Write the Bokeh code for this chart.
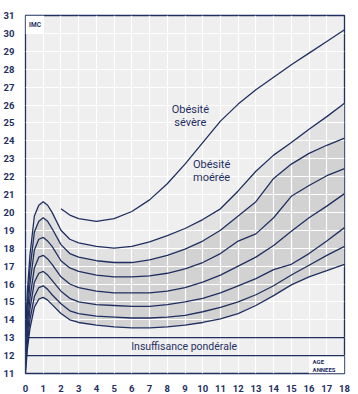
from bokeh.plotting import figure
from bokeh.models import SingleIntervalTicker, Label, ColumnDataSource, LabelSet
from bokeh.core.properties import value
from bokeh.embed import file_html
from bokeh.resources import INLINE

# ---------------- data ----------------
ages = [0, 0.1, 0.25, 0.5, 0.75, 1, 1.25, 1.5, 2, 2.5, 3, 4, 5, 6, 7, 8, 9, 10,
        11, 12, 13, 14, 15, 16, 17, 18]
p97 = [13.0, 15.5, 17.6, 19.8, 20.4, 20.6, 20.4, 20.0, 19.0, 18.5, 18.3, 18.1, 18.0,
       18.1, 18.35, 18.7, 19.1, 19.6, 20.2, 21.2, 22.3, 23.2, 23.9, 24.65, 25.35, 26.1]
p90 = [12.6, 14.8, 16.8, 18.9, 19.5, 19.7, 19.5, 19.1, 18.2, 17.7, 17.5, 17.3, 17.2,
       17.2, 17.35, 17.6, 17.95, 18.4, 19.0, 19.8, 20.6, 21.9, 22.7, 23.3, 23.75, 24.15]
p75 = [12.2, 14.2, 16.0, 17.9, 18.5, 18.6, 18.4, 18.1, 17.3, 16.9, 16.7, 16.5, 16.4,
       16.4, 16.45, 16.6, 16.85, 17.2, 17.7, 18.4, 18.8, 19.7, 20.9, 21.5, 22.05, 22.45]
p50 = [11.8, 13.6, 15.2, 16.9, 17.5, 17.6, 17.4, 17.1, 16.4, 16.0, 15.8, 15.6, 15.5,
       15.5, 15.5, 15.6, 15.8, 16.1, 16.5, 17.0, 17.5, 18.15, 18.95, 19.7, 20.35, 21.05]
p25 = [11.5, 13.1, 14.6, 16.1, 16.6, 16.7, 16.5, 16.2, 15.6, 15.2, 15.0, 14.85, 14.8,
       14.75, 14.75, 14.85, 15.0, 15.2, 15.5, 15.9, 16.3, 16.8, 17.1, 17.7, 18.4, 19.15]
p10 = [11.2, 12.6, 14.0, 15.3, 15.8, 15.9, 15.7, 15.4, 14.9, 14.5, 14.35, 14.2, 14.15,
       14.1, 14.1, 14.15, 14.25, 14.45, 14.7, 15.0, 15.4, 15.9, 16.5, 17.05, 17.6, 18.1]
p3 = [11.0, 12.3, 13.5, 14.7, 15.15, 15.25, 15.1, 14.85, 14.35, 14.0, 13.85, 13.7, 13.6,
      13.55, 13.55, 13.6, 13.7, 13.85, 14.05, 14.35, 14.8, 15.35, 15.95, 16.4, 16.75, 17.1]

severe_ages = [2, 2.5, 3, 4, 5, 6, 7, 8, 9, 10, 11, 12, 13, 14, 15, 16, 17, 18]
severe = [20.2, 19.85, 19.65, 19.5, 19.65, 20.05, 20.7, 21.6, 22.7, 23.9, 25.1, 26.05,
          26.85, 27.55, 28.25, 28.9, 29.55, 30.2]

percentile_names = ["97", "90", "75", "50", "25", "10", "3"]
underweight_limits = [12, 13]

NAVY = "#1f2f5f"
FONT = "Roboto"

p = figure(width=358, height=394, x_range=(0, 18), y_range=(11, 31),
           output_backend="svg", toolbar_location=None,
           min_border_left=18, min_border_right=14, min_border_top=15,
           min_border_bottom=17)
p.background_fill_color = "#efeff0"
p.border_fill_color = "white"
p.outline_line_color = NAVY
p.outline_line_width = 1.3

for ax in (p.xaxis[0], p.yaxis[0]):
    ax.ticker = SingleIntervalTicker(interval=1)
    ax.axis_line_color = None
    ax.major_tick_line_color = None
    ax.minor_tick_line_color = None
    ax.major_label_text_font = FONT
    ax.major_label_text_font_size = "9.5px"
    ax.major_label_text_font_style = "bold"
    ax.major_label_text_color = NAVY
p.xaxis.major_label_standoff = 5
p.yaxis.major_label_standoff = 5

p.xgrid.ticker = SingleIntervalTicker(interval=1)
p.ygrid.ticker = SingleIntervalTicker(interval=1)
for g in (p.xgrid[0], p.ygrid[0]):
    g.grid_line_color = "white"
    g.grid_line_width = 1.2
    g.grid_line_alpha = 1.0

# shaded bands
b1 = p.varea(x=ages, y1=p90, y2=p97, fill_color="#e2e2e3")
b2 = p.varea(x=ages, y1=p3, y2=p90, fill_color="#d2d2d3")
b1.level = "image"
b2.level = "image"

# boxes
p.quad(left=[0], right=[1], bottom=[30], top=[31], fill_color="white", line_color=None)
p.quad(left=[16], right=[18], bottom=[11], top=[12], fill_color="white", line_color=None)

# horizontal limits
for yv in underweight_limits:
    p.line(x=[0, 18], y=[yv, yv], line_color=NAVY, line_width=1.3)

for series in (p97, p90, p75, p50, p25, p10, p3):
    p.line(x=ages, y=series, line_color=NAVY, line_width=1.3)
p.line(x=severe_ages, y=severe, line_color=NAVY, line_width=1.3)

# right-hand labels
ends = [s[-1] for s in (p97, p90, p75, p50, p25, p10, p3)]
src = ColumnDataSource(dict(x=[18] * len(ends), y=ends, t=percentile_names))
p.add_layout(LabelSet(x="x", y="y", text="t", source=src, x_offset=2,
                      text_baseline="middle", text_font=value(FONT),
                      text_font_size="9px", text_font_style="bold",
                      text_color=NAVY))

def txt(x, y, s, size="11px", align="center", style="normal"):
    p.add_layout(Label(x=x, y=y, text=s, text_align=align, text_baseline="middle",
                       text_font=FONT, text_font_size=size,
                       text_font_style=style, text_color=NAVY))

txt(9.3, 25.75, "Obésité")
txt(9.3, 25.0, "sévère")
txt(10.5, 22.7, "Obésité")
txt(10.5, 21.95, "moérée")
txt(8.95, 12.5, "Insuffisance pondérale", size="10.5px")
txt(0.2, 30.45, "IMC", size="6.5px", align="left", style="bold")
txt(16.2, 11.65, "AGE", size="6px", align="left", style="bold")
txt(16.2, 11.25, "ANNEES", size="6px", align="left", style="bold")

open("out.html", "w").write(file_html(p, INLINE))
